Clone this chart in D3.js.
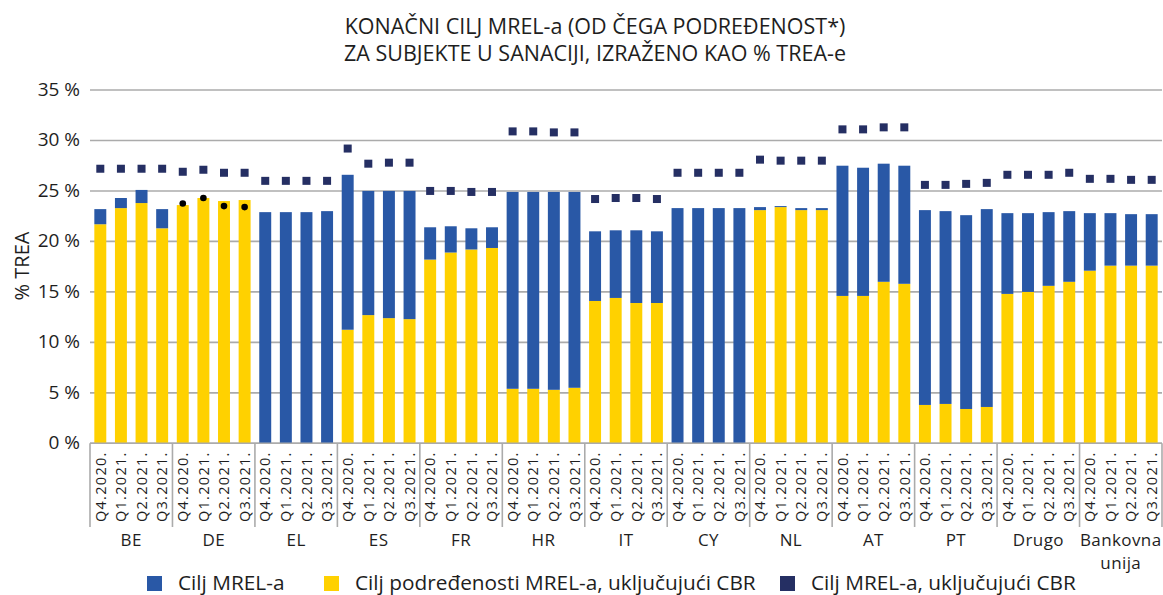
<!DOCTYPE html>
<html>
<head>
<meta charset="utf-8">
<script src="https://cdn.jsdelivr.net/npm/d3@7"></script>
<style>
  html, body { margin: 0; padding: 0; background: #fff; }
  svg { display: block; font-family: "Open Sans", "Noto Sans", sans-serif; }
</style>
</head>
<body>
<svg id="chart" width="1163" height="595"></svg>
<script>
// ---- Data ----
const groups = ["BE", "DE", "EL", "ES", "FR", "HR", "IT", "CY", "NL", "AT", "PT", "Drugo", "Bankovna unija"];
const quarters = ["Q4.2020.", "Q1.2021.", "Q2.2021.", "Q3.2021."];

// Ukupni cilj MREL-a (% TREA) – vrh stupca
const mrelTotal = [
  23.2, 24.3, 25.1, 23.2,   // BE
  23.6, 24.3, 24.0, 24.1,   // DE
  22.9, 22.9, 22.9, 23.0,   // EL
  26.6, 25.0, 25.0, 25.0,   // ES
  21.4, 21.5, 21.3, 21.4,   // FR
  24.9, 24.9, 24.9, 24.9,   // HR
  21.0, 21.1, 21.1, 21.0,   // IT
  23.3, 23.3, 23.3, 23.3,   // CY
  23.4, 23.5, 23.3, 23.3,   // NL
  27.5, 27.3, 27.7, 27.5,   // AT
  23.1, 23.0, 22.6, 23.2,   // PT
  22.8, 22.8, 22.9, 23.0,   // Drugo
  22.8, 22.8, 22.7, 22.7    // Bankovna unija
];
// Cilj podređenosti MREL-a, uključujući CBR
const subordination = [
  21.7, 23.3, 23.8, 21.3,
  23.6, 24.3, 24.0, 24.1,
  0, 0, 0, 0,
  11.25, 12.7, 12.4, 12.3,
  18.2, 18.9, 19.2, 19.35,
  5.4, 5.4, 5.3, 5.5,
  14.1, 14.4, 13.9, 13.9,
  0, 0, 0, 0,
  23.1, 23.4, 23.1, 23.1,
  14.6, 14.6, 16.0, 15.8,
  3.8, 3.9, 3.4, 3.6,
  14.8, 15.0, 15.6, 16.0,
  17.1, 17.6, 17.6, 17.6
];
// Cilj MREL-a, uključujući CBR
const mrelCBR = [
  27.2, 27.2, 27.2, 27.2,
  26.9, 27.1, 26.8, 26.8,
  26.0, 26.0, 26.0, 26.0,
  29.2, 27.7, 27.8, 27.8,
  25.0, 25.0, 24.9, 24.9,
  30.9, 30.9, 30.8, 30.8,
  24.2, 24.3, 24.3, 24.2,
  26.8, 26.8, 26.8, 26.8,
  28.1, 28.0, 28.0, 28.0,
  31.1, 31.1, 31.3, 31.3,
  25.6, 25.6, 25.7, 25.8,
  26.6, 26.6, 26.6, 26.8,
  26.2, 26.2, 26.1, 26.1
];
// Crne točke (DE)
const blackDots = [
  null, null, null, null,
  23.75, 24.3, 23.5, 23.4,
  null, null, null, null, null, null, null, null, null, null, null, null,
  null, null, null, null, null, null, null, null, null, null, null, null,
  null, null, null, null, null, null, null, null, null, null, null, null,
  null, null, null, null, null, null, null, null
];
const yTicks = [0, 5, 10, 15, 20, 25, 30, 35];
const titleLines = ["KONAČNI CILJ MREL-a (OD ČEGA PODREĐENOST*)", "ZA SUBJEKTE U SANACIJI, IZRAŽENO KAO % TREA-e"];
const legendLabels = ["Cilj MREL-a", "Cilj podređenosti MREL-a, uključujući CBR", "Cilj MREL-a, uključujući CBR"];

// ---- Build rows ----
const rows = [];
groups.forEach((g, gi) => quarters.forEach((q, qi) => {
  const i = gi * 4 + qi;
  rows.push({ key: g + "|" + q, group: g, quarter: q,
    total: mrelTotal[i], sub: subordination[i], cbr: mrelCBR[i], dot: blackDots[i] });
}));

const colors = { blue: "#2958a6", yellow: "#ffd100", navy: "#252f63", grid: "#ababab", text: "#1e1e1e" };

const svg = d3.select("#chart");
const plotLeft = 90, plotRight = 1162, plotTop = 90, plotBottom = 443.3;

const x = d3.scaleBand().domain(rows.map(d => d.key)).range([plotLeft, plotRight]).paddingInner(0.42).paddingOuter(0.21);
const xg = d3.scaleBand().domain(groups).range([plotLeft, plotRight]).padding(0);
const y = d3.scaleLinear().domain([0, 35]).range([plotBottom, plotTop]);

// Title
svg.append("g").selectAll("text").data(titleLines).join("text")
  .attr("x", 595).attr("y", (d, i) => 34 + i * 27)
  .attr("text-anchor", "middle").attr("font-size", 21.5).attr("fill", colors.text)
  .text(d => d);

// Grid lines
svg.append("g").selectAll("line").data(yTicks).join("line")
  .attr("x1", plotLeft).attr("x2", plotRight)
  .attr("y1", d => y(d)).attr("y2", d => y(d))
  .attr("stroke", colors.grid).attr("stroke-width", 1.6);

// Y axis labels
const yAxis = d3.axisLeft(y).tickValues(yTicks).tickSize(0).tickPadding(10).tickFormat(d => d + " %");
svg.append("g").attr("transform", `translate(${plotLeft},0)`).call(yAxis)
  .call(g => g.select(".domain").remove())
  .selectAll("text").attr("font-size", 19).attr("fill", colors.text)
  .attr("font-family", "'Open Sans', sans-serif").attr("dy", "0.28em");

// Y title
svg.append("text")
  .attr("transform", "translate(29,266) rotate(-90)")
  .attr("text-anchor", "middle").attr("font-size", 20).attr("fill", colors.text)
  .text("% TREA");

// Bars: subordination (yellow) at bottom, remaining MREL (blue) on top
const bars = svg.append("g");
bars.selectAll("rect.sub").data(rows.filter(d => d.sub > 0)).join("rect")
  .attr("class", "sub")
  .attr("x", d => x(d.key)).attr("width", x.bandwidth())
  .attr("y", d => y(d.sub)).attr("height", d => y(0) - y(d.sub))
  .attr("fill", colors.yellow);
bars.selectAll("rect.mrel").data(rows.filter(d => d.total > d.sub)).join("rect")
  .attr("class", "mrel")
  .attr("x", d => x(d.key)).attr("width", x.bandwidth())
  .attr("y", d => y(d.total)).attr("height", d => y(d.sub) - y(d.total))
  .attr("fill", colors.blue);

// Markers (CBR)
const ms = 8;
svg.append("g").selectAll("rect").data(rows).join("rect")
  .attr("x", d => x(d.key) + x.bandwidth() / 2 - ms / 2)
  .attr("y", d => y(d.cbr) - ms / 2)
  .attr("width", ms).attr("height", ms)
  .attr("fill", colors.navy);

// Black dots
svg.append("g").selectAll("circle").data(rows.filter(d => d.dot != null)).join("circle")
  .attr("cx", d => x(d.key) + x.bandwidth() / 2)
  .attr("cy", d => y(d.dot)).attr("r", 3.3)
  .attr("fill", "#000");

// Baseline
svg.append("line").attr("x1", plotLeft).attr("x2", plotRight).attr("y1", y(0)).attr("y2", y(0))
  .attr("stroke", colors.grid).attr("stroke-width", 1.6);

// Quarter tick labels
const xAxis = d3.axisBottom(x).tickSize(0).tickFormat(k => k.split("|")[1]);
svg.append("g").attr("transform", `translate(0,${plotBottom})`).call(xAxis)
  .call(g => g.select(".domain").remove())
  .selectAll("text")
  .attr("font-size", 14.5).attr("fill", colors.text).attr("letter-spacing", "1.3px")
  .attr("font-family", "'Open Sans', sans-serif")
  .attr("text-anchor", "end")
  .attr("transform", "rotate(-90)")
  .attr("x", -8).attr("y", 0).attr("dy", "0.36em");

// Group separators
const sepX = groups.map(g => xg(g)).concat([plotRight]);
svg.append("g").selectAll("line").data(sepX).join("line")
  .attr("x1", d => d).attr("x2", d => d)
  .attr("y1", plotBottom).attr("y2", 527)
  .attr("stroke", colors.grid).attr("stroke-width", 1.6);

// Group labels (one text per line)
const groupLines = [];
groups.forEach(g => g.split(" ").forEach((p, i) => groupLines.push({ group: g, text: p, line: i })));
svg.append("g").selectAll("text").data(groupLines).join("text")
  .attr("x", d => xg(d.group) + xg.bandwidth() / 2)
  .attr("y", d => 546 + d.line * 23)
  .attr("text-anchor", "middle").attr("font-size", 17).attr("fill", colors.text)
  .attr("letter-spacing", "0.4px")
  .text(d => d.text);

// Legend
const legendX = [147, 324, 780];
const legendColors = [colors.blue, colors.yellow, colors.navy];
const lg = svg.append("g").selectAll("g").data(legendLabels).join("g")
  .attr("transform", (d, i) => `translate(${legendX[i]},576)`);
lg.append("rect").attr("width", 15).attr("height", 15).attr("fill", (d, i) => legendColors[i]);
lg.append("text").attr("x", 31).attr("y", 14).attr("font-size", 20.8).attr("fill", colors.text).text(d => d);
</script>
</body>
</html>
